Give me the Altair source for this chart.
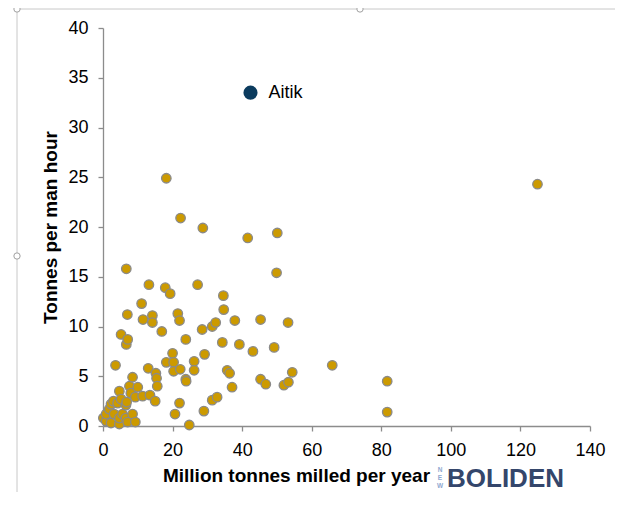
import altair as alt
import pandas as pd

# Million tonnes milled per year (x) and tonnes per man hour (y)
mill_x = [0.1, 0.9, 0.9, 1.8, 2.3, 2.3, 3.0, 3.2, 4.2, 4.7, 4.7, 4.7, 5.2, 5.6, 6.6, 6.6, 6.8, 7.1, 7.6, 8.0,
          8.5, 8.5, 9.3, 9.3, 10.0, 11.4, 13.5, 15.0,
          3.6, 5.2, 6.7, 6.7, 7.0, 7.1, 11.1, 11.5, 13.0, 13.2, 14.2, 14.2, 15.2, 15.4, 15.6, 16.9, 17.9, 18.2,
          18.2, 19.3, 20.0, 20.3, 20.3, 20.7, 21.5, 22.0, 22.0, 22.2, 22.3, 23.8, 23.8, 23.9, 24.8, 26.2, 26.2,
          27.2, 28.5, 28.7, 29.0, 29.2, 31.4, 31.4, 32.4, 32.8, 34.3, 34.6, 34.7, 35.7, 36.4, 37.1, 37.9, 39.2,
          41.6, 43.1, 45.3, 45.3, 46.8, 49.2, 49.9, 50.1, 52.0, 53.2, 53.3, 54.4, 65.9, 81.7, 81.7, 124.9]
tph_y = [0.8, 0.5, 1.2, 1.7, 0.3, 2.2, 2.5, 1.2, 2.3, 0.2, 0.8, 3.5, 2.7, 1.2, 2.1, 0.8, 2.4, 0.4, 4.0, 3.3,
         4.9, 1.2, 2.9, 0.4, 3.9, 3.0, 3.1, 2.5,
         6.1, 9.2, 15.8, 8.2, 11.2, 8.7, 12.3, 10.7, 5.8, 14.2, 11.1, 10.4, 5.3, 4.8, 4.0, 9.5, 13.9, 24.9,
         6.4, 13.3, 7.3, 6.4, 5.5, 1.2, 11.3, 10.6, 2.3, 5.7, 20.9, 8.7, 4.7, 4.5, 0.1, 6.5, 5.6,
         14.2, 9.7, 19.9, 1.5, 7.2, 10.0, 2.6, 10.4, 2.9, 8.4, 13.1, 11.7, 5.6, 5.3, 3.9, 10.6, 8.2,
         18.9, 7.5, 10.7, 4.7, 4.2, 7.9, 15.4, 19.4, 4.1, 10.4, 4.4, 5.4, 6.1, 4.5, 1.4, 24.3]

aitik_name = ["Aitik"]
aitik_x = [42.4]
aitik_y = [33.5]

x_ticks = [0, 20, 40, 60, 80, 100, 120, 140]
y_ticks = [0, 5, 10, 15, 20, 25, 30, 35, 40]

FONT = "Liberation Sans"
AXIS_GRAY = "#8c8c8c"

mines = pd.DataFrame({"x": mill_x, "y": tph_y})
aitik = pd.DataFrame({"name": aitik_name, "x": aitik_x, "y": aitik_y})
one = pd.DataFrame({"k": [0]})

xscale = alt.Scale(domain=[0, 140], nice=False, zero=False)
yscale = alt.Scale(domain=[0, 40], nice=False, zero=False)

xaxis = alt.Axis(values=x_ticks, grid=False, domainColor=AXIS_GRAY, domainWidth=1.3,
                 tickColor=AXIS_GRAY, tickWidth=1.3, tickSize=5, labelFont=FONT, labelFontSize=18,
                 labelColor="#000000", labelPadding=10, labelFlush=False, labelOverlap=False,
                 title="Million tonnes milled per year",
                 titleFont=FONT, titleFontSize=19, titleFontWeight="bold", titleColor="#000000",
                 titleX=193, titleY=49, titleAlign="center", titleBaseline="middle")
yaxis = alt.Axis(values=y_ticks, grid=False, domainColor=AXIS_GRAY, domainWidth=1.3,
                 tickColor=AXIS_GRAY, tickWidth=1.3, tickSize=5, labelFont=FONT, labelFontSize=18,
                 labelColor="#000000", labelPadding=10, labelFlush=False, labelOverlap=False,
                 title="Tonnes per man hour",
                 titleFont=FONT, titleFontSize=19, titleFontWeight="bold", titleColor="#000000",
                 titleX=-53, titleY=199, titleAngle=270, titleAlign="center", titleBaseline="middle")

points = alt.Chart(mines).mark_circle(
    size=90, color="#CC9A00", opacity=1, stroke="#8a8a8a", strokeWidth=1.3
).encode(
    x=alt.X("x:Q", scale=xscale, axis=xaxis),
    y=alt.Y("y:Q", scale=yscale, axis=yaxis),
)

aitik_pt = alt.Chart(aitik).mark_circle(size=200, color="#0B3B5E", opacity=1).encode(
    x=alt.X("x:Q", scale=xscale), y=alt.Y("y:Q", scale=yscale)
)
aitik_lbl = alt.Chart(aitik).mark_text(
    align="left", baseline="middle", dx=18, font=FONT, fontSize=18, color="#000000"
).encode(x=alt.X("x:Q", scale=xscale), y=alt.Y("y:Q", scale=yscale), text="name:N")

# logo text
logo = alt.Chart(one).mark_text(
    align="left", baseline="middle", font=FONT, fontSize=26, fontWeight="bold", color="#34466B"
).encode(x=alt.value(344), y=alt.value(451), text=alt.value("BOLIDEN"))


def new_letter(letter, ypos):
    return alt.Chart(one).mark_text(
        align="center", baseline="middle", font=FONT, fontSize=6.5, fontWeight="bold", color="#8FA8D0"
    ).encode(x=alt.value(337), y=alt.value(ypos), text=alt.value(letter))


new_n = new_letter("N", 442)
new_e = new_letter("E", 450)
new_w = new_letter("W", 458)

# selection frame
frame_top = alt.Chart(one).mark_rule(color="#c8c8c8", strokeWidth=1).encode(
    x=alt.value(-86), x2=alt.value(520), y=alt.value(-19))
frame_left = alt.Chart(one).mark_rule(color="#c8c8c8", strokeWidth=1).encode(
    x=alt.value(-86), y=alt.value(-19), y2=alt.value(470))


def handle(px, py):
    return alt.Chart(one).mark_point(shape="circle", size=40, filled=True, fill="white",
                                     stroke="#a0a0a0", strokeWidth=1, opacity=1).encode(
        x=alt.value(px), y=alt.value(py))


h1 = handle(-86, -19)
h2 = handle(257, -19)
h3 = handle(-86, 228)

chart = alt.layer(
    frame_top, frame_left, h1, h2, h3, points, aitik_pt, aitik_lbl, logo, new_n, new_e, new_w
).properties(
    width=487, height=398,
    autosize=alt.AutoSizeParams(type="none"),
    padding={"left": 95, "top": 20, "right": 25, "bottom": 66},
    background="white",
).configure_view(stroke=None)

chart.save("out.html", embed_options={"renderer": "svg", "actions": False})
